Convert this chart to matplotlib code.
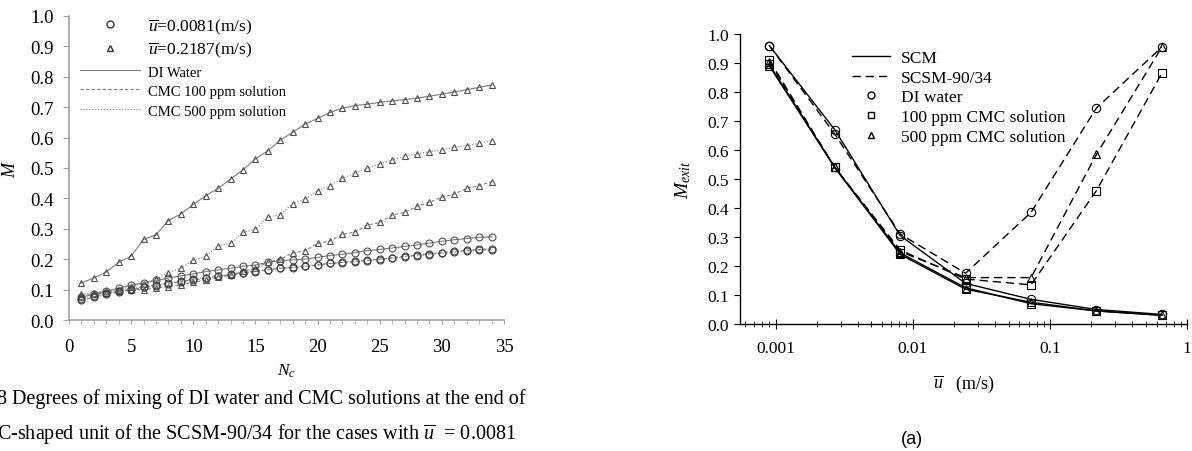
import matplotlib
matplotlib.use("Agg")
import matplotlib.pyplot as plt
from matplotlib.lines import Line2D
import numpy as np

plt.rcParams['font.family'] = ['Liberation Serif', 'DejaVu Serif']
plt.rcParams['mathtext.fontset'] = 'custom'
plt.rcParams['mathtext.rm'] = 'Liberation Serif'
plt.rcParams['mathtext.it'] = 'Liberation Serif:italic'

# ---------------- Left chart data ----------------
nc = list(range(1, 35))
# u = 0.2187 m/s (triangles)
tri_di = [0.122, 0.138, 0.158, 0.190, 0.210, 0.265, 0.280, 0.327, 0.349, 0.380,
          0.409, 0.433, 0.464, 0.494, 0.530, 0.557, 0.592, 0.617, 0.645, 0.663,
          0.683, 0.697, 0.705, 0.710, 0.716, 0.721, 0.725, 0.730, 0.736, 0.743,
          0.750, 0.758, 0.765, 0.773]
tri_cmc500 = [0.085, 0.090, 0.095, 0.100, 0.110, 0.120, 0.135, 0.155, 0.170, 0.197,
              0.209, 0.244, 0.252, 0.288, 0.299, 0.338, 0.347, 0.383, 0.398, 0.425,
              0.442, 0.466, 0.483, 0.500, 0.513, 0.527, 0.540, 0.546, 0.554, 0.560,
              0.568, 0.574, 0.581, 0.590]
tri_cmc100 = [0.080, 0.085, 0.090, 0.095, 0.100, 0.100, 0.105, 0.110, 0.115, 0.125,
              0.130, 0.140, 0.148, 0.160, 0.170, 0.190, 0.200, 0.220, 0.228, 0.252,
              0.260, 0.282, 0.289, 0.312, 0.321, 0.345, 0.354, 0.374, 0.387, 0.404,
              0.414, 0.433, 0.442, 0.455]
# u = 0.0081 m/s (circles)
cir_di = [0.075, 0.085, 0.095, 0.105, 0.115, 0.122, 0.130, 0.138, 0.145, 0.152,
          0.159, 0.165, 0.170, 0.177, 0.181, 0.190, 0.195, 0.198, 0.200, 0.206,
          0.212, 0.216, 0.222, 0.228, 0.232, 0.237, 0.242, 0.247, 0.253, 0.259,
          0.264, 0.268, 0.272, 0.274]
cir_cmc100 = [0.065, 0.075, 0.085, 0.092, 0.100, 0.107, 0.113, 0.120, 0.126, 0.132,
              0.137, 0.144, 0.148, 0.155, 0.159, 0.165, 0.170, 0.172, 0.176, 0.181,
              0.186, 0.190, 0.193, 0.196, 0.200, 0.205, 0.210, 0.214, 0.218, 0.222,
              0.226, 0.229, 0.232, 0.234]
cir_cmc500 = [0.068, 0.078, 0.088, 0.095, 0.103, 0.110, 0.116, 0.122, 0.128, 0.134,
              0.139, 0.145, 0.150, 0.156, 0.161, 0.166, 0.170, 0.173, 0.177, 0.182,
              0.186, 0.189, 0.192, 0.195, 0.199, 0.203, 0.207, 0.211, 0.215, 0.219,
              0.223, 0.227, 0.229, 0.231]

# ---------------- Right chart data ----------------
u_bar = [0.0009, 0.0027, 0.0081, 0.0243, 0.0729, 0.2187, 0.6561]
scm_di = [0.960, 0.670, 0.305, 0.140, 0.085, 0.050, 0.033]
scm_100 = [0.895, 0.540, 0.245, 0.125, 0.070, 0.045, 0.030]
scm_500 = [0.890, 0.540, 0.240, 0.120, 0.075, 0.045, 0.030]
scsm_di = [0.960, 0.655, 0.310, 0.175, 0.385, 0.745, 0.955]
scsm_100 = [0.910, 0.540, 0.255, 0.155, 0.135, 0.460, 0.865]
scsm_500 = [0.905, 0.540, 0.250, 0.160, 0.160, 0.585, 0.955]

W, H = 1192, 452
fig = plt.figure(figsize=(W / 100, H / 100), dpi=100)

# ================= Left panel =================
ax1 = fig.add_axes([69 / W, 1 - 321 / H, (504 - 69) / W, (321 - 17) / H])
gcol = '#7a7a7a'
lw = 0.8
ms = 5
mk = '#505050'
ax1.plot(nc, tri_di, color=gcol, lw=lw, ls='-', marker='^', ms=ms, mfc='none', mec=mk, mew=0.8)
ax1.plot(nc, tri_cmc500, color=gcol, lw=lw, ls=':', marker='^', ms=ms, mfc='none', mec=mk, mew=0.8)
ax1.plot(nc, tri_cmc100, color=gcol, lw=lw, ls='--', dashes=(3, 2), marker='^', ms=ms, mfc='none', mec=mk, mew=0.8)
ax1.plot(nc, cir_di, color=gcol, lw=lw, ls='-', marker='o', ms=ms, mfc='none', mec=mk, mew=0.8)
ax1.plot(nc, cir_cmc100, color=gcol, lw=lw, ls='--', dashes=(3, 2), marker='o', ms=ms, mfc='none', mec='#404040', mew=0.8)
ax1.plot(nc, cir_cmc500, color=gcol, lw=lw, ls=':', marker='o', ms=ms, mfc='none', mec='#404040', mew=0.8)

ax1.set_xlim(0, 35)
ax1.set_ylim(0, 1.0)
ax1.set_xticks(np.arange(0, 36, 5))
ax1.set_xticks(np.arange(0, 36, 1), minor=True)
ax1.set_yticks(np.arange(0, 1.01, 0.1))
ax1.set_yticklabels([f'{v:.1f}' for v in np.arange(0, 1.01, 0.1)])
for s in ['top', 'right']:
    ax1.spines[s].set_visible(False)
for s in ['left', 'bottom']:
    ax1.spines[s].set_color('#a0a0a0')
    ax1.spines[s].set_linewidth(1.2)
ax1.tick_params(axis='y', direction='out', length=4, color='#a0a0a0', labelsize=13.5, pad=7)
ax1.tick_params(axis='x', which='major', direction='out', length=3, color='#a0a0a0', labelsize=13.5, pad=10)
ax1.tick_params(axis='x', which='minor', direction='out', length=3, color='#a0a0a0')
ax1.set_xlabel(r'$N_c$', fontsize=12.5, labelpad=5)
ax1.set_ylabel(r'$M$', fontsize=13, labelpad=8)

h_left = [
    Line2D([], [], ls='none', marker='o', ms=5, mfc='none', mec='#333333'),
    Line2D([], [], ls='none', marker='^', ms=5, mfc='none', mec='#333333'),
    Line2D([], [], color=gcol, lw=lw, ls='-'),
    Line2D([], [], color=gcol, lw=lw, ls='--', dashes=(3, 2)),
    Line2D([], [], color=gcol, lw=lw, ls=':'),
]
l_left = [r'$\overline{u}$=0.0081(m/s)', r'$\overline{u}$=0.2187(m/s)',
          'DI Water', 'CMC 100 ppm solution', 'CMC 500 ppm solution']
leg1 = ax1.legend(h_left, l_left, loc='upper left', bbox_to_anchor=(80 / W, 1 - 17 / H),
                  bbox_transform=fig.transFigure, frameon=False, fontsize=12.5,
                  handlelength=3.45, handletextpad=0.45, labelspacing=0.25,
                  borderpad=0, borderaxespad=0)
for i, t in enumerate(leg1.get_texts()):
    if i >= 2:
        t.set_fontsize(10.5)

# Caption under left chart
fig.text(-3 / W, 1 - 404 / H, '8 Degrees of mixing of DI water and CMC solutions at the end of',
         fontsize=14.5, va='baseline', ha='left')
fig.text(-3 / W, 1 - 439 / H,
         r'C-shaped unit of the SCSM-90/34 for the cases with $\overline{u}$  = 0.0081',
         fontsize=14.5, va='baseline', ha='left')

# ================= Right panel =================
ax2 = fig.add_axes([740 / W, 1 - 325 / H, (1187 - 740) / W, (325 - 35) / H])
k = 'black'
rw = 1.0
rms = 6
dash = (6, 3.5)
ax2.plot(u_bar, scm_di, color=k, lw=rw, ls='-', marker='o', ms=rms, mfc='none', mec=k, mew=0.8)
ax2.plot(u_bar, scm_100, color=k, lw=rw, ls='-', marker='s', ms=rms - 0.5, mfc='none', mec=k, mew=0.8)
ax2.plot(u_bar, scm_500, color=k, lw=rw, ls='-', marker='^', ms=rms, mfc='none', mec=k, mew=0.8)
ax2.plot(u_bar, scsm_di, color=k, lw=rw, ls='--', dashes=dash, marker='o', ms=rms, mfc='none', mec=k, mew=0.8)
ax2.plot(u_bar, scsm_100, color=k, lw=rw, ls='--', dashes=dash, marker='s', ms=rms - 0.5, mfc='none', mec=k, mew=0.8)
ax2.plot(u_bar, scsm_500, color=k, lw=rw, ls='--', dashes=dash, marker='^', ms=rms, mfc='none', mec=k, mew=0.8)

ax2.set_xscale('log')
ax2.set_xlim(0.00055, 1.0)
ax2.set_ylim(0, 1.0)
ax2.set_xticks([0.001, 0.01, 0.1, 1])
ax2.set_xticklabels(['0.001', '0.01', '0.1', '1'])
ax2.set_yticks(np.arange(0, 1.01, 0.1))
ax2.set_yticklabels([f'{v:.1f}' for v in np.arange(0, 1.01, 0.1)])
for s in ['top', 'right']:
    ax2.spines[s].set_visible(False)
for s in ['left', 'bottom']:
    ax2.spines[s].set_linewidth(1.0)
ax2.tick_params(axis='y', direction='out', length=4, labelsize=12.5, pad=4)
ax2.tick_params(axis='x', which='major', direction='inout', length=7, labelsize=12.5, pad=8)
ax2.tick_params(axis='x', which='minor', direction='inout', length=4)
ax2.set_xlabel(r'$\overline{u}$   (m/s)', fontsize=13, labelpad=12)
ax2.set_ylabel(r'$M_{exit}$', fontsize=14, labelpad=10)

h_right = [
    Line2D([], [], color=k, lw=rw, ls='-'),
    Line2D([], [], color=k, lw=rw, ls='--', dashes=dash),
    Line2D([], [], ls='none', marker='o', ms=5, mfc='none', mec=k),
    Line2D([], [], ls='none', marker='s', ms=4.5, mfc='none', mec=k),
    Line2D([], [], ls='none', marker='^', ms=5, mfc='none', mec=k),
]
l_right = ['SCM', 'SCSM-90/34', 'DI water', '100 ppm CMC solution', '500 ppm CMC solution']
ax2.legend(h_right, l_right, loc='upper left', bbox_to_anchor=(852 / W, 1 - 51 / H),
           bbox_transform=fig.transFigure, frameon=False, fontsize=12.5,
           handlelength=2.2, handletextpad=0.6, labelspacing=0.2,
           borderpad=0, borderaxespad=0)

fig.text(912 / W, 1 - 440 / H, '(a)', fontsize=13, family='Liberation Sans',
         ha='center', va='center')

fig.savefig('out.png', dpi=100)
